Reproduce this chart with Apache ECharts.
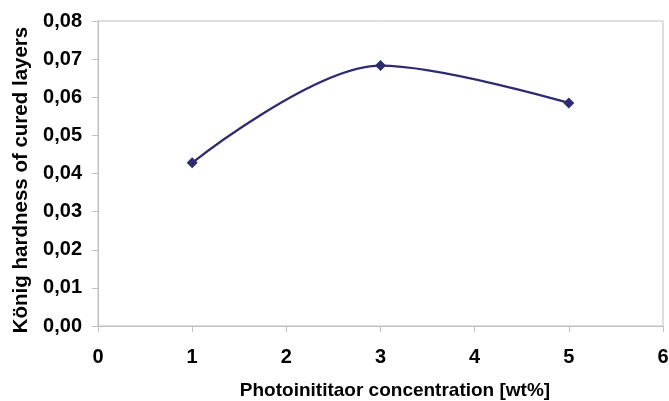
<!DOCTYPE html>
<html><head><meta charset="utf-8">
<script src="https://cdn.jsdelivr.net/npm/echarts@6/dist/echarts.min.js"></script>
<style>html,body{margin:0;padding:0;background:#fff}#c{width:669px;height:401px}</style>
</head><body><div id="c"></div>
<script>
var xValues = [1, 3, 5];
var hardness = [0.0428, 0.0683, 0.0585];
var xAxisName = 'Photoinititaor concentration [wt%]';
var yAxisName = 'König hardness of cured layers';

var chart = echarts.init(document.getElementById('c'), null, {renderer: 'canvas'});
var font = 'Liberation Sans, Arial, sans-serif';
var axisGray = '#c0c0c0';
chart.setOption({
  animation: false,
  grid: {left: 98, right: 6, top: 21, bottom: 75, show: true, borderColor: axisGray, borderWidth: 1,
         containLabel: false, outerBoundsMode: 'none'},
  xAxis: {
    type: 'value', min: 0, max: 6, interval: 1,
    name: xAxisName, nameLocation: 'middle', nameGap: 55,
    nameTextStyle: {fontFamily: font, fontWeight: 'bold', fontSize: 19, color: '#000', padding: [0,0,0,29]},
    axisLine: {show: true, lineStyle: {color: axisGray}},
    axisTick: {show: true, length: 6, lineStyle: {color: axisGray}},
    splitLine: {show: false},
    axisLabel: {fontFamily: font, fontWeight: 'bold', fontSize: 20, color: '#000', margin: 21}
  },
  yAxis: {
    type: 'value', min: 0, max: 0.08, interval: 0.01,
    name: yAxisName, nameLocation: 'middle', nameGap: 65, nameRotate: 90,
    nameTextStyle: {fontFamily: font, fontWeight: 'bold', fontSize: 20.5, color: '#000', padding: [0,13,0,0]},
    axisLine: {show: true, lineStyle: {color: axisGray}},
    axisTick: {show: true, length: 6, lineStyle: {color: axisGray}},
    splitLine: {show: false},
    axisLabel: {fontFamily: font, fontWeight: 'bold', fontSize: 20, color: '#000', margin: 16,
      formatter: function (v) { return v.toFixed(2).replace('.', ','); }}
  },
  series: [{
    type: 'line',
    data: xValues.map(function (x, i) { return [x, hardness[i]]; }),
    smooth: 0.33,
    symbol: 'diamond', symbolSize: 11,
    lineStyle: {color: '#2e2b70', width: 2.3},
    itemStyle: {color: '#2e2b70'}
  }]
});
</script></body></html>
